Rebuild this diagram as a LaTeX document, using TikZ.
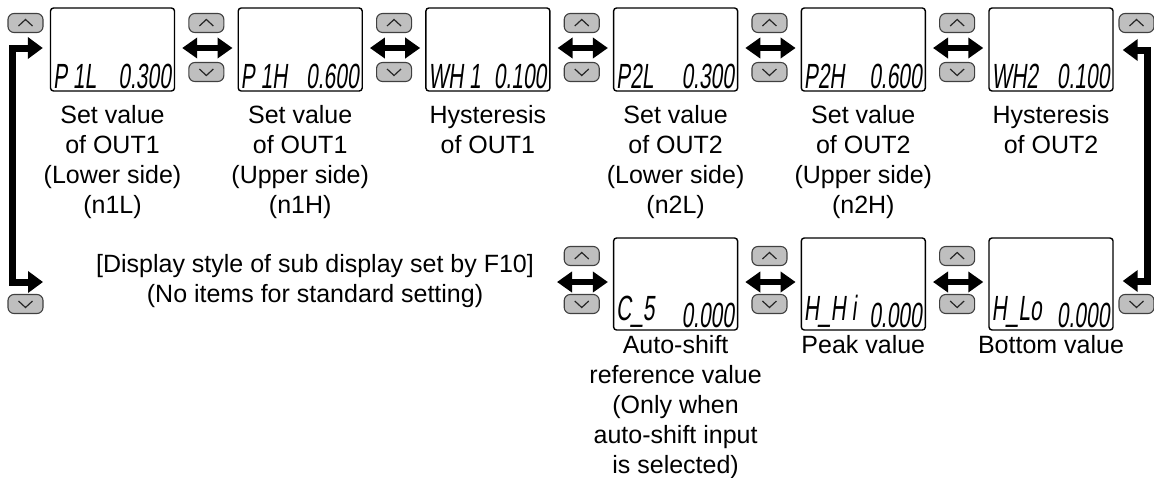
\documentclass[tikz,border=0pt]{standalone}
\usepackage{fontspec}
\setmainfont{Liberation Sans}
\newfontfamily\lcdfont[FakeStretch=0.6,FakeSlant=0.12]{Liberation Sans}
\usetikzlibrary{arrows.meta}
\newcommand\upbtn[3]{\node[btn] (#1) at (#2,#3) {};
  \draw[chev] ([shift={(-7,3)}]#1.center) -- ([shift={(0,-3.5)}]#1.center) -- ([shift={(7,3)}]#1.center);}
\newcommand\dnbtn[3]{\node[btn] (#1) at (#2,#3) {};
  \draw[chev] ([shift={(-7,-3)}]#1.center) -- ([shift={(0,3.5)}]#1.center) -- ([shift={(7,-3)}]#1.center);}
\begin{document}
\begin{tikzpicture}[x=1pt,y=-1pt,
  lcd/.style={draw=black, line width=1.4pt, rounded corners=3pt, fill=white, minimum width=124pt, inner sep=0pt},
  toprow/.style={lcd, minimum height=83pt},
  botrow/.style={lcd, minimum height=92pt},
  btn/.style={draw=black!75, fill=black!25, line width=1.1pt, rounded corners=6pt, minimum width=35pt, minimum height=19pt, inner sep=0pt},
  chev/.style={line width=1.2pt, draw=black!85},
  dbl/.style={line width=6pt, {Triangle[length=15pt,width=20pt]}-{Triangle[length=15pt,width=20pt]}},
  brk/.style={line width=7pt, line join=miter, {Triangle[length=15pt,width=21pt]}-{Triangle[length=15pt,width=21pt]}},
  lbl/.style={font=\fontsize{25}{30}\selectfont, align=center, anchor=north, inner sep=0pt},
  seg/.style={font=\lcdfont\fontsize{35}{35}\selectfont, inner sep=0pt},
]
\useasboundingbox (0,0) rectangle (1154,477);

% top row displays
\node[toprow] (b1) at (112.5,49.5) {};
\node[toprow] (b2) at (300.2,49.5) {};
\node[toprow] (b3) at (487.9,49.5) {};
\node[toprow] (b4) at (675.6,49.5) {};
\node[toprow] (b5) at (863.3,49.5) {};
\node[toprow] (b6) at (1051,49.5) {};
% bottom row displays
\node[botrow] (c4) at (675.6,284) {};
\node[botrow] (c5) at (863.3,284) {};
\node[botrow] (c6) at (1051,284) {};

% LCD texts
\node[seg, anchor=south west] (t1a) at ([shift={(3,-3)}]b1.south west) {P 1L};
\node[seg, anchor=south east] (t1b) at ([shift={(-4,-3)}]b1.south east) {0.300};
\node[seg, anchor=south west] (t2a) at ([shift={(3,-3)}]b2.south west) {P 1H};
\node[seg, anchor=south east] (t2b) at ([shift={(-4,-3)}]b2.south east) {0.600};
\node[seg, anchor=south west] (t3a) at ([shift={(3,-3)}]b3.south west) {WH 1};
\node[seg, anchor=south east] (t3b) at ([shift={(-4,-3)}]b3.south east) {0.100};
\node[seg, anchor=south west] (t4a) at ([shift={(3,-3)}]b4.south west) {P2L};
\node[seg, anchor=south east] (t4b) at ([shift={(-4,-3)}]b4.south east) {0.300};
\node[seg, anchor=south west] (t5a) at ([shift={(3,-3)}]b5.south west) {P2H};
\node[seg, anchor=south east] (t5b) at ([shift={(-4,-3)}]b5.south east) {0.600};
\node[seg, anchor=south west] (t6a) at ([shift={(3,-3)}]b6.south west) {WH2};
\node[seg, anchor=south east] (t6b) at ([shift={(-4,-3)}]b6.south east) {0.100};
\node[seg, anchor=south west] (u4a) at ([shift={(3,-3)}]c4.south west) {C\_5};
\node[seg, anchor=south east] (u4b) at ([shift={(-4,-3)}]c4.south east) {0.000};
\node[seg, anchor=south west] (u5a) at ([shift={(3,-3)}]c5.south west) {H\_H i};
\node[seg, anchor=south east] (u5b) at ([shift={(-4,-3)}]c5.south east) {0.000};
\node[seg, anchor=south west] (u6a) at ([shift={(3,-3)}]c6.south west) {H\_Lo};
\node[seg, anchor=south east] (u6b) at ([shift={(-4,-3)}]c6.south east) {0.000};

% buttons top row
\upbtn{ua0}{25.5}{23}
\upbtn{ua1}{206.35}{23}  \dnbtn{da1}{206.35}{72}
\upbtn{ua2}{394.05}{23}  \dnbtn{da2}{394.05}{72}
\upbtn{ua3}{581.75}{23}  \dnbtn{da3}{581.75}{72}
\upbtn{ua4}{769.45}{23}  \dnbtn{da4}{769.45}{72}
\upbtn{ua5}{957.15}{23}  \dnbtn{da5}{957.15}{72}
\upbtn{ua6}{1136.5}{23}
% buttons bottom row
\dnbtn{db0}{25.5}{304}
\upbtn{ub3}{581.75}{256}  \dnbtn{db3}{581.75}{304}
\upbtn{ub4}{769.45}{256}  \dnbtn{db4}{769.45}{304}
\upbtn{ub5}{957.15}{256}  \dnbtn{db5}{957.15}{304}
\dnbtn{db6}{1136.5}{304}

% double arrows
\draw[dbl] ([shift={(7,-1.5)}]b1.east) -- ([shift={(-5,-1.5)}]b2.west);
\draw[dbl] ([shift={(7,-1.5)}]b2.east) -- ([shift={(-5,-1.5)}]b3.west);
\draw[dbl] ([shift={(7,-1.5)}]b3.east) -- ([shift={(-5,-1.5)}]b4.west);
\draw[dbl] ([shift={(7,-1.5)}]b4.east) -- ([shift={(-5,-1.5)}]b5.west);
\draw[dbl] ([shift={(7,-1.5)}]b5.east) -- ([shift={(-5,-1.5)}]b6.west);
\coordinate (bl) at (557,282);
\draw[dbl] (bl) -- ([shift={(-5,-2)}]c4.west);
\draw[dbl] ([shift={(7,-2)}]c4.east) -- ([shift={(-5,-2)}]c5.west);
\draw[dbl] ([shift={(7,-2)}]c5.east) -- ([shift={(-5,-2)}]c6.west);

% side brackets
\coordinate (lb) at (43,282);
\coordinate (lt) at ([shift={(-7,-1.5)}]b1.west);
\draw[brk] (lb) -- (12.5,282) -- (12.5,48) -- (lt);
\coordinate (rt) at ([shift={(9,0.5)}]b6.east);
\coordinate (rb) at ([shift={(9,-3)}]c6.east);
\draw[brk] (rt) -- (1147,50) -- (1147,281) -- (rb);

% labels
\node[lbl] (l1) at (112.5,104.8) {Set value\\of OUT1\\(Lower side)\\(n1L)};
\node[lbl] (l2) at (300.2,104.8) {Set value\\of OUT1\\(Upper side)\\(n1H)};
\node[lbl] (l3) at (487.9,104.8) {Hysteresis\\of OUT1};
\node[lbl] (l4) at (675.6,104.8) {Set value\\of OUT2\\(Lower side)\\(n2L)};
\node[lbl] (l5) at (863.3,104.8) {Set value\\of OUT2\\(Upper side)\\(n2H)};
\node[lbl] (l6) at (1051,104.8) {Hysteresis\\of OUT2};
\node[lbl] (ds) at (315,254) {[Display style of sub display set by F10]\\(No items for standard setting)};
\node[lbl] (m4) at (675.6,334.8) {Auto-shift\\reference value\\(Only when\\auto-shift input\\is selected)};
\node[lbl] (m5) at (863.3,334.8) {Peak value};
\node[lbl] (m6) at (1051,334.8) {Bottom value};
\end{tikzpicture}
\end{document}
